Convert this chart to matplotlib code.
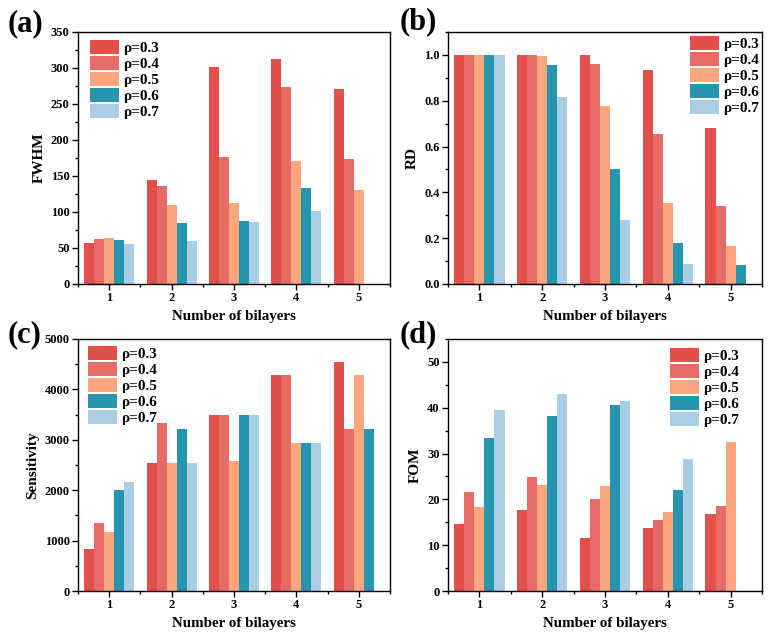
import numpy as np
import matplotlib
matplotlib.use("Agg")
import matplotlib.pyplot as plt
from matplotlib.ticker import MultipleLocator

plt.rcParams['font.family'] = ['Liberation Serif', 'DejaVu Serif']
plt.rcParams['font.weight'] = 'bold'

bilayers = [1, 2, 3, 4, 5]
labels = ["ρ=0.3", "ρ=0.4", "ρ=0.5", "ρ=0.6", "ρ=0.7"]
colors = ["#E1504A", "#E66B66", "#FCA67E", "#2695B0", "#A8CDE4"]
nan = np.nan

fwhm = {
    "ρ=0.3": [57, 144, 302, 313, 271],
    "ρ=0.4": [62, 136, 176, 273, 174],
    "ρ=0.5": [64, 110, 113, 171, 131],
    "ρ=0.6": [61, 85, 87, 134, nan],
    "ρ=0.7": [56, 60, 86, 102, nan],
}
rd = {
    "ρ=0.3": [1.0, 1.0, 1.0, 0.936, 0.682],
    "ρ=0.4": [1.0, 0.998, 0.962, 0.656, 0.342],
    "ρ=0.5": [1.0, 0.996, 0.778, 0.355, 0.164],
    "ρ=0.6": [1.0, 0.955, 0.504, 0.179, 0.083],
    "ρ=0.7": [0.998, 0.818, 0.279, 0.086, nan],
}
sens = {
    "ρ=0.3": [840, 2545, 3500, 4280, 4550],
    "ρ=0.4": [1340, 3340, 3500, 4280, 3210],
    "ρ=0.5": [1170, 2545, 2570, 2940, 4280],
    "ρ=0.6": [2000, 3210, 3500, 2940, 3210],
    "ρ=0.7": [2170, 2545, 3500, 2940, nan],
}
fom = {
    "ρ=0.3": [14.7, 17.7, 11.6, 13.7, 16.8],
    "ρ=0.4": [21.7, 24.8, 20.1, 15.6, 18.5],
    "ρ=0.5": [18.3, 23.2, 23.0, 17.2, 32.6],
    "ρ=0.6": [33.4, 38.1, 40.7, 22.1, nan],
    "ρ=0.7": [39.4, 42.9, 41.4, 28.9, nan],
}

fig = plt.figure(figsize=(7.71, 6.36), dpi=100)
W, H = 771, 636

def ax_at(l, t, r, b):
    return fig.add_axes([l / W, 1 - b / H, (r - l) / W, (b - t) / H])

panels = [
    (ax_at(78, 32, 390, 284), fwhm, "FWHM", (0, 350), 50, 25, "(a)", (0.038, 0.968), None, (-0.224, 1.032)),
    (ax_at(448, 32, 762, 284), rd, "RD", (0, 1.1), 0.2, 0.1, "(b)", (0.771, 0.984), "%.1f", (-0.153, 1.04)),
    (ax_at(78, 339, 390, 591), sens, "Sensitivity", (0, 5000), 1000, 500, "(c)", (0.032, 0.972), None, (-0.224, 1.016)),
    (ax_at(448, 339, 762, 591), fom, "FOM", (0, 55), 10, 5, "(d)", (0.707, 0.964), None, (-0.153, 1.016)),
]

x = np.array(bilayers, dtype=float)
bw = 0.16
for ax, data, ylabel, ylim, major, minor, tag, lpos, fmt, tpos in panels:
    for i, lab in enumerate(labels):
        ax.bar(x + (i - 2) * bw, data[lab], width=bw, color=colors[i],
               label=lab, linewidth=0)
    ax.set_xlim(0.5, 5.5)
    ax.set_ylim(*ylim)
    ax.set_xticks(bilayers)
    ax.xaxis.set_minor_locator(MultipleLocator(0.5))
    ax.yaxis.set_major_locator(MultipleLocator(major))
    ax.yaxis.set_minor_locator(MultipleLocator(minor))
    if fmt:
        ax.yaxis.set_major_formatter(matplotlib.ticker.FormatStrFormatter(fmt))
    if ylabel == "RD":
        ax.set_yticks(np.arange(0, 1.01, 0.2))
    ax.tick_params(which='major', direction='out', length=4, width=1, labelsize=9, pad=2)
    ax.tick_params(which='minor', direction='out', length=2, width=1)
    for t in ax.get_xticklabels() + ax.get_yticklabels():
        t.set_fontweight('bold')
    for s in ax.spines.values():
        s.set_linewidth(1.0)
        s.set_color('black')
    ax.set_xlabel("Number of bilayers", fontsize=10.8, fontweight='bold', labelpad=4)
    ax.set_ylabel(ylabel, fontsize=11, fontweight='bold', labelpad=4)
    ax.text(tpos[0], tpos[1], tag, transform=ax.transAxes, fontsize=22, fontweight='bold',
            ha='left', va='center')
    leg = ax.legend(loc='upper left', bbox_to_anchor=lpos, frameon=False,
                    borderpad=0, borderaxespad=0, handlelength=1.9, handleheight=1.0,
                    labelspacing=0.06, handletextpad=0.25,
                    prop={'family': 'Liberation Serif', 'weight': 'bold', 'size': 11})

fig.savefig("out.png", dpi=100)
